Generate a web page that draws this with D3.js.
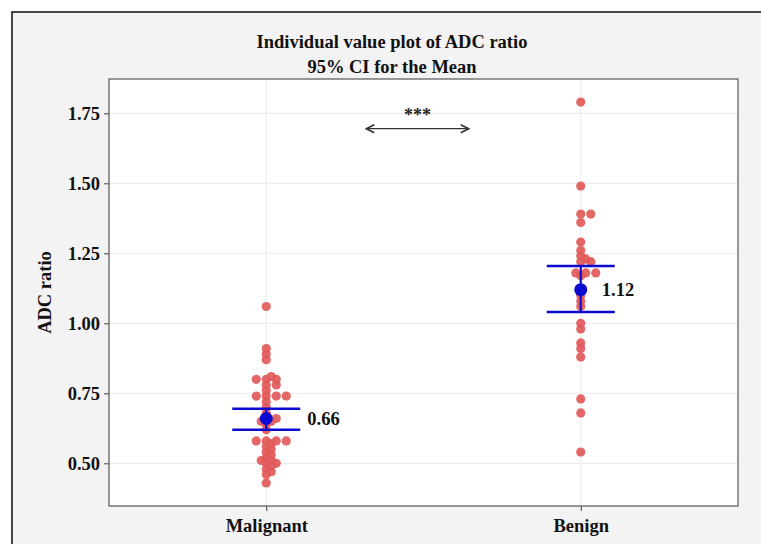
<!DOCTYPE html>
<html><head><meta charset="utf-8">
<script src="https://cdn.jsdelivr.net/npm/d3@7"></script>
<style>
html,body{margin:0;padding:0;background:#fff;}
text{font-family:"Liberation Serif","Times New Roman",serif;font-weight:bold;}
</style></head>
<body>
<svg id="chart" width="761" height="544"></svg>
<script>
// ---- data ----
const categories = ["Malignant", "Benign"];
const malignantValues = [1.06, 0.91, 0.89, 0.87, 0.81, 0.80, 0.80, 0.80, 0.78, 0.78, 0.76,
  0.74, 0.74, 0.74, 0.74, 0.72, 0.70, 0.68, 0.66, 0.66, 0.65, 0.65, 0.64, 0.62,
  0.58, 0.58, 0.58, 0.58, 0.57, 0.56, 0.55, 0.54, 0.53, 0.52, 0.51, 0.51, 0.50, 0.50,
  0.49, 0.48, 0.47, 0.46, 0.43];
const benignValues = [1.79, 1.49, 1.39, 1.39, 1.36, 1.29, 1.26, 1.24, 1.23, 1.22, 1.22,
  1.18, 1.18, 1.18, 1.17, 1.10, 1.08, 1.06, 1.00, 0.98, 0.93, 0.91, 0.88, 0.73, 0.68, 0.54];
const means = [0.66, 1.12];
const meanLabels = ["0.66", "1.12"];
const ciLow = [0.62, 1.04];
const ciHigh = [0.695, 1.205];
const yTicks = [0.50, 0.75, 1.00, 1.25, 1.50, 1.75];
const titleLines = ["Individual value plot of ADC ratio", "95% CI for the Mean"];
const yTitle = "ADC ratio";
const sigLabel = "***";

// ---- layout ----
const svg = d3.select("#chart");
const P = {l: 109, r: 738, t: 79, b: 506};
const dotColor = "#e25a5a", ciColor = "#0a0ad0";
const labelOffset = [41, 21];

svg.append("rect").attr("x", 12).attr("y", 12).attr("width", 800).attr("height", 600)
  .attr("fill", "#f3f3f3").attr("stroke", "#1a1a1a").attr("stroke-width", 1.6);

const x = d3.scalePoint().domain(categories).range([P.l, P.r]).padding(0.5);
const y = d3.scaleLinear().domain([0.3475, 1.8725]).range([P.b, P.t]);

svg.append("rect").attr("x", P.l).attr("y", P.t).attr("width", P.r - P.l).attr("height", P.b - P.t)
  .attr("fill", "#fff");

// grid
const g = svg.append("g");
g.selectAll(".hg").data(yTicks).join("line")
  .attr("x1", P.l).attr("x2", P.r).attr("y1", d => y(d)).attr("y2", d => y(d))
  .attr("stroke", "#ebebeb").attr("stroke-width", 1);
g.selectAll(".vg").data(categories).join("line")
  .attr("x1", d => x(d)).attr("x2", d => x(d)).attr("y1", P.t).attr("y2", P.b)
  .attr("stroke", "#ebebeb").attr("stroke-width", 1);

// beeswarm layout
function swarm(values, cx, minDist, step) {
  const placed = [];
  const sorted = values.slice().sort((a, b) => a - b);
  sorted.forEach(v => {
    const py = y(v);
    for (let k = 0; k < 200; k++) {
      const off = (k === 0) ? 0 : (k % 2 ? 1 : -1) * Math.ceil(k / 2) * step;
      const px = cx + off;
      if (placed.every(p => Math.hypot(p.x - px, p.y - py) >= minDist)) {
        placed.push({x: px, y: py, v});
        break;
      }
    }
  });
  return placed;
}
const groups = [malignantValues, benignValues];
groups.forEach((vals, i) => {
  const pts = swarm(vals, x(categories[i]), 5.5, 5);
  svg.append("g").selectAll("circle").data(pts).join("circle")
    .attr("cx", d => d.x).attr("cy", d => d.y).attr("r", 4.6)
    .attr("fill", dotColor).attr("fill-opacity", 0.92);
});

// CI bars and means
categories.forEach((c, i) => {
  const cx = x(c);
  const cg = svg.append("g");
  cg.append("line").attr("x1", cx).attr("x2", cx).attr("y1", y(ciLow[i])).attr("y2", y(ciHigh[i]))
    .attr("stroke", ciColor).attr("stroke-width", 2.2);
  [ciLow[i], ciHigh[i]].forEach(v => {
    cg.append("line").attr("x1", cx - 34).attr("x2", cx + 34).attr("y1", y(v)).attr("y2", y(v))
      .attr("stroke", ciColor).attr("stroke-width", 2.5);
  });
  cg.append("circle").attr("cx", cx).attr("cy", y(means[i])).attr("r", 6.5).attr("fill", ciColor);
  cg.append("text").attr("x", cx + labelOffset[i]).attr("y", y(means[i])).attr("dy", "0.35em")
    .attr("font-size", 18.5).attr("fill", "#111").text(meanLabels[i]);
});

// panel border
svg.append("rect").attr("x", P.l).attr("y", P.t).attr("width", P.r - P.l).attr("height", P.b - P.t)
  .attr("fill", "none").attr("stroke", "#555").attr("stroke-width", 1.2);

// axes
const ya = svg.append("g").attr("transform", `translate(${P.l},0)`)
  .call(d3.axisLeft(y).tickValues(yTicks).tickFormat(d3.format(".2f")).tickSize(5).tickPadding(4));
const xa = svg.append("g").attr("transform", `translate(0,${P.b})`)
  .call(d3.axisBottom(x).tickSize(5).tickPadding(8));
[ya, xa].forEach(a => {
  a.select(".domain").remove();
  a.selectAll("line").attr("stroke", "#444");
  a.selectAll("text").attr("font-size", 18.5).attr("fill", "#111")
    .attr("font-family", "'Liberation Serif','Times New Roman',serif").attr("font-weight", "bold");
});

// y title
svg.append("text").attr("transform", `translate(51,${(P.t + P.b) / 2}) rotate(-90)`)
  .attr("text-anchor", "middle").attr("font-size", 18.5).attr("fill", "#111").text(yTitle);

// title
svg.append("g").selectAll("text").data(titleLines).join("text")
  .attr("x", 392).attr("y", (d, i) => 48 + i * 25).attr("text-anchor", "middle")
  .attr("font-size", 18.5).attr("fill", "#111").text(d => d);

// significance arrow
const defs = svg.append("defs");
["s", "e"].forEach(id => {
  defs.append("marker").attr("id", "arr" + id).attr("viewBox", "0 0 10 10")
    .attr("refX", id === "e" ? 9 : 1).attr("refY", 5).attr("markerWidth", 10).attr("markerHeight", 10)
    .attr("markerUnits", "userSpaceOnUse").attr("orient", "auto")
    .append("path").attr("d", id === "e" ? "M1,1 L9,5 L1,9" : "M9,1 L1,5 L9,9")
    .attr("fill", "none").attr("stroke", "#333").attr("stroke-width", 1.6);
});
const arrowY = y(1.695);
const ax1 = x(categories[0]) + 100, ax2 = x(categories[1]) - 112;
svg.append("line").attr("x1", ax1).attr("x2", ax2).attr("y1", arrowY).attr("y2", arrowY)
  .attr("stroke", "#333").attr("stroke-width", 1.2)
  .attr("marker-start", "url(#arrs)").attr("marker-end", "url(#arre)");
svg.append("text").attr("x", (ax1 + ax2) / 2).attr("y", arrowY - 8).attr("text-anchor", "middle")
  .attr("font-size", 18).attr("fill", "#222").text(sigLabel);
</script>
</body></html>
